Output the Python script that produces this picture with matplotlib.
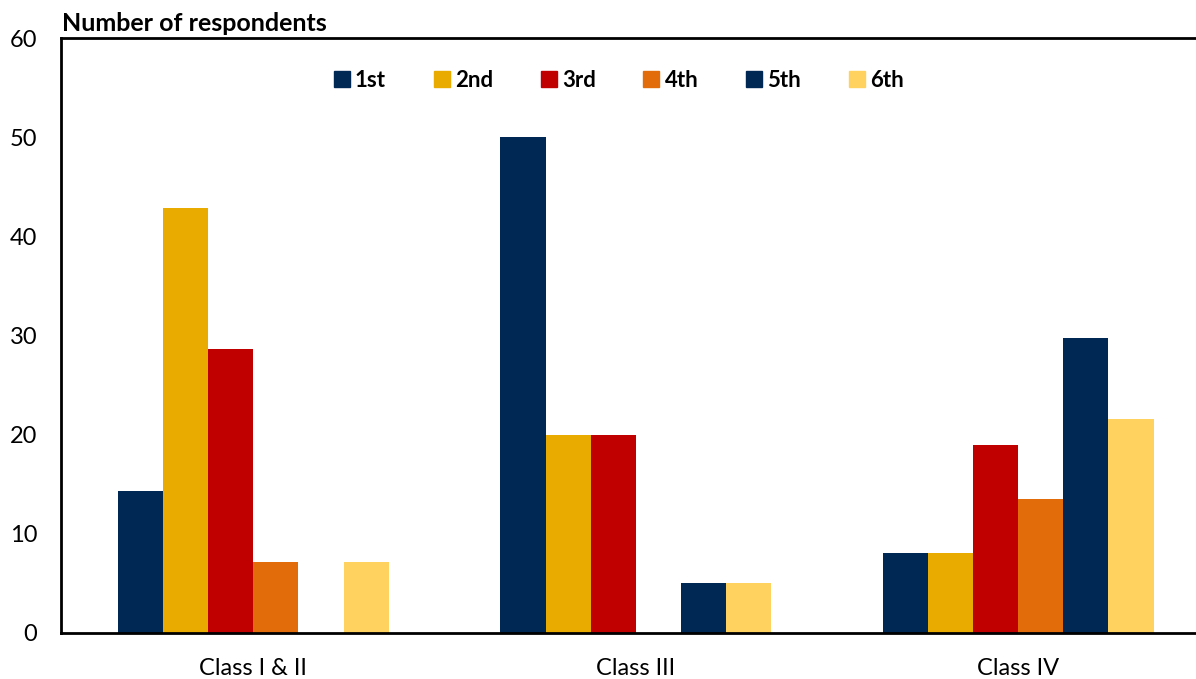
import numpy as np
import matplotlib.pyplot as plt
from matplotlib.lines import Line2D

# Données
classes = ["Class I & II", "Class III", "Class IV"]
rangs = ["1st", "2nd", "3rd", "4th", "5th", "6th"]
valeurs = {
    "1st": [14.3, 50.0, 8.1],
    "2nd": [42.9, 20.0, 8.1],
    "3rd": [28.6, 20.0, 18.9],
    "4th": [7.1, 0.0, 13.5],
    "5th": [0.0, 5.0, 29.7],
    "6th": [7.1, 5.0, 21.6],
}
couleurs = ["#002855", "#EAAB00", "#C00000", "#E36C0A", "#002855", "#FFD25F"]

plt.rcParams['font.family'] = ['Lato', 'DejaVu Sans']

fig = plt.figure(figsize=(11.96, 6.79), dpi=100)
ax = fig.add_axes([0.051, 0.068, 0.949, 0.876])

x = np.arange(len(classes))
largeur = 0.118
for i, r in enumerate(rangs):
    pos = x + (i - 2.5) * largeur
    ax.bar(pos, valeurs[r], width=largeur, color=couleurs[i], edgecolor='none')

ax.set_ylim(0, 60)
ax.set_xlim(-0.503, 2.465)
ax.set_yticks(range(0, 61, 10))
ax.set_xticks(x)
ax.set_xticklabels(classes)
ax.tick_params(axis='both', length=0, labelsize=17)
ax.tick_params(axis='x', pad=18)
ax.tick_params(axis='y', pad=17)
for s in ['left', 'bottom', 'top']:
    ax.spines[s].set_linewidth(2)
ax.spines['right'].set_visible(False)

# Titre de l'axe
fig.text(0.052, 0.966, "Number of respondents", fontsize=18, fontweight='bold',
         ha='left', va='center')

# Légende
poignees = [Line2D([], [], marker='s', linestyle='none', markersize=12,
                   color=c) for c in couleurs]
ax.legend(poignees, rangs, ncol=6, loc='upper center', bbox_to_anchor=(0.49, 0.98),
          frameon=False, prop={'weight': 'bold', 'size': 16},
          handletextpad=0.1, columnspacing=2.0, handlelength=1.0)

plt.savefig('out.png')
